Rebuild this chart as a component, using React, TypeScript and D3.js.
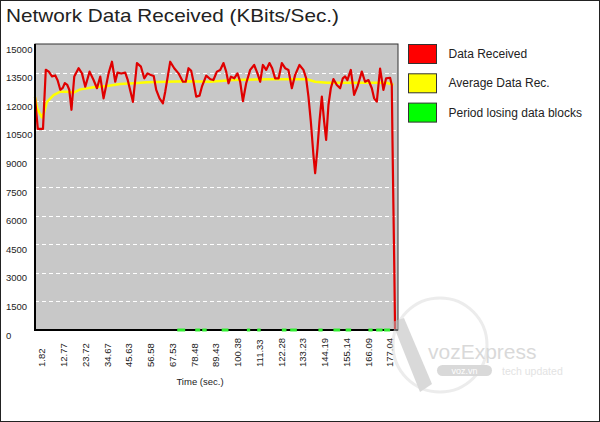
import React from "react";
import * as d3 from "d3";

// Data Received (time in sec, KBits/sec)
const receivedTime = [-1.7, -0.29, 2.32, 3.73, 5.24, 6.85, 8.51, 9.67, 11.03, 12.28, 13.29, 14.55, 15.55, 16.66, 18.07, 20.23, 21.94, 23.6, 25.77, 27.78, 29.49, 31.15, 32.81, 34.17, 35.32, 37.03, 38.69, 39.85, 41.71, 43.72, 44.88, 47.6, 49.61, 51.62, 53.28, 54.94, 56.65, 58.06, 59.32, 60.98, 62.69, 63.84, 66.36, 68.37, 70.53, 72.75, 74.15, 75.56, 76.92, 78.08, 79.44, 81.1, 82.3, 84.47, 86.58, 88.09, 89.85, 91.51, 93.17, 94.53, 95.69, 96.9, 98.56, 100.21, 101.57, 102.93, 104.59, 106.6, 108.61, 110.27, 111.63, 112.99, 114.65, 116.31, 117.67, 119.17, 120.93, 122.54, 124.2, 125.86, 127.57, 129.23, 131.4, 133.41, 134.77, 135.93, 137.13, 138.44, 139.3, 140.46, 141.46, 142.67, 143.83, 144.83, 145.99, 147.19, 148.5, 150.21, 151.87, 153.23, 154.38, 155.54, 157.25, 158.91, 160.57, 162.78, 164.44, 166.11, 167.82, 168.98, 170.33, 171.99, 173.65, 175.01, 177.02, 177.87, 178.22, 178.67, 179.13, 179.53];
const receivedValue = [12200, 10550, 10550, 13650, 13550, 13300, 13350, 13100, 12600, 12700, 12950, 12850, 12600, 11550, 13300, 13730, 13460, 12760, 13550, 13110, 12680, 13290, 12150, 12850, 13460, 14070, 13020, 13500, 13450, 13500, 13150, 11970, 14000, 13810, 13200, 13460, 13370, 13320, 12590, 12150, 11890, 12500, 14070, 13730, 13460, 13020, 13020, 13730, 13590, 13020, 12240, 12290, 12760, 13340, 13150, 13110, 13550, 13640, 14000, 13550, 12940, 13290, 13200, 13460, 13020, 12000, 12940, 13640, 13900, 13460, 13020, 13900, 13640, 14000, 13730, 13200, 13200, 14000, 13730, 13640, 12680, 13380, 13900, 13640, 13200, 12240, 10930, 9180, 8220, 9530, 10930, 12240, 10930, 9970, 11800, 12680, 13160, 12850, 12680, 13200, 13300, 13110, 13640, 12330, 12760, 13550, 13020, 13110, 12680, 12150, 11980, 13710, 12590, 13200, 13230, 12850, 9970, 6620, 3300, 0];

// Average Data Rec.
const averageTime = [-1.7, -0.54, 1.82, 2.98, 4.34, 7.66, 11.03, 14.4, 17.72, 21.09, 27.78, 34.52, 41.21, 47.9, 54.64, 64.7, 74.76, 86.48, 98.2, 115.0, 135.12, 139.3, 145.18, 175.36, 178.68];
const averageValue = [12220, 11600, 11150, 11450, 11970, 12320, 12500, 12500, 12450, 12620, 12730, 12800, 12900, 12940, 12990, 13020, 13050, 13020, 13110, 13150, 13150, 13020, 12970, 12970, 12850];

// Period losing data blocks (start, end in sec)
const lossStart = [69.88, 78.93, 82.45, 92.26, 104.94, 110.12, 122.54, 126.72, 140.95, 148.5, 154.64, 166.11, 169.98, 174.0];
const lossEnd = [73.9, 81.45, 84.72, 95.68, 106.6, 111.88, 124.86, 130.09, 143.07, 151.87, 157.4, 168.22, 173.25, 177.02];

const xTickLabels = ["1.82", "12.77", "23.72", "34.67", "45.63", "56.58", "67.53", "78.48", "89.43", "100.38", "111.33", "122.28", "133.23", "144.19", "155.14", "166.09", "177.04"];
const yTicks = [0, 1500, 3000, 4500, 6000, 7500, 9000, 10500, 12000, 13500, 15000];

const legendLabels = ["Data Received", "Average Data Rec.", "Period losing data blocks"];
const legendColors = ["#ff0000", "#ffff00", "#00ff00"];

export default function App() {
  const W = 600, H = 422;
  const left = 35, right = 398, top = 44, bottom = 330;
  const x = d3.scaleLinear().domain([-1.7, 181.0]).range([left, right]);
  const y = d3.scaleLinear().domain([0, 15000]).range([bottom, top]);

  const red = receivedTime.map((t, i) => [t, receivedValue[i]] as [number, number]);
  const avg = averageTime.map((t, i) => [t, averageValue[i]] as [number, number]);
  const line = d3.line<[number, number]>().x((d) => x(d[0])).y((d) => y(d[1]));

  const font = "'Liberation Sans', Arial, sans-serif";

  return (
    <svg width={W} height={H} style={{ position: "absolute", left: 0, top: 0, background: "#fff" }} fontFamily={font}>
      <rect x={0.5} y={0.5} width={W - 1} height={H - 1} fill="#fff" stroke="#222" />
      <text x={6} y={22} fontSize={19} fill="#222" textLength={333} lengthAdjust="spacingAndGlyphs">Network Data Received (KBits/Sec.)</text>

      {/* plot area */}
      <rect x={left} y={top} width={right - left} height={bottom - top} fill="#c8c8c8" stroke="#333" strokeWidth={1} />
      {yTicks.filter((v) => v > 0 && v < 15000).map((v) => (
        <line key={v} x1={left} x2={right} y1={Math.round(y(v)) + 0.5} y2={Math.round(y(v)) + 0.5} stroke="#fff" strokeDasharray="4,3" />
      ))}
      {yTicks.map((v) => (
        <text key={"yl" + v} x={6} y={y(v) + 8.5} fontSize={9.5} fill="#222">{v}</text>
      ))}

      {/* average line */}
      <path d={line(avg) || ""} fill="none" stroke="#ffff00" strokeWidth={2.5} strokeLinejoin="round" />
      {/* received line */}
      <path d={line(red) || ""} fill="none" stroke="#e00000" strokeWidth={2.2} strokeLinejoin="round" />

      {/* axes */}
      <line x1={left} x2={left} y1={top} y2={bottom + 1} stroke="#000" strokeWidth={2} />
      <line x1={left - 1} x2={right} y1={bottom} y2={bottom} stroke="#000" strokeWidth={2} />

      {/* losing data periods */}
      {lossStart.map((s, i) => (
        <line key={"g" + i} x1={x(s)} x2={x(lossEnd[i])} y1={bottom} y2={bottom} stroke="#33ee33" strokeWidth={3} />
      ))}

      {/* x tick labels */}
      {xTickLabels.map((l) => (
        <text key={"xl" + l} transform={`translate(${x(+l)},367) rotate(-90)`} dy="0.35em" fontSize={9.5} fill="#222">{l}</text>
      ))}
      <text x={200} y={385} fontSize={9.5} textAnchor="middle" fill="#222">Time (sec.)</text>

      {/* legend */}
      {legendLabels.map((l, i) => (
        <g key={l} transform={`translate(408.5,${44.5 + i * 29.3})`}>
          <rect width={28} height={19} fill={legendColors[i]} stroke="#333" />
          <text x={40} y={13.5} fontSize={12} fill="#222">{l}</text>
        </g>
      ))}

      {/* watermark */}
      <g opacity={0.55}>
        <circle cx={440} cy={345} r={47} fill="none" stroke="#ddd" strokeWidth={3} />
        <path d="M392,322 L404,318 L432,384 L420,392 Z" fill="#bbb" />
        <text x={428} y={359} fontSize={21} fill="#bbb" fontWeight={300}>vozExpress</text>
        <rect x={437} y={365} width={55} height={11} rx={5.5} fill="#bbb" />
        <text x={464.5} y={374} fontSize={9} fill="#fff" textAnchor="middle">voz.vn</text>
        <text x={502} y={375} fontSize={10.5} fill="#ccc">tech updated</text>
      </g>
    </svg>
  );
}
